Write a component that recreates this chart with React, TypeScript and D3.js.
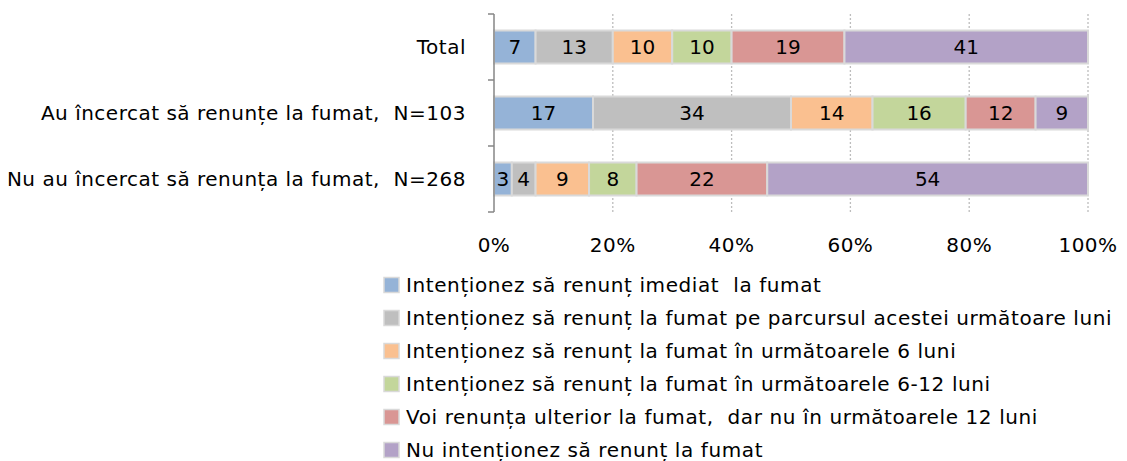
import React from 'react';
import * as d3 from 'd3';

const categories = [
  'Total',
  'Au încercat să renunțe la fumat,  N=103',
  'Nu au încercat să renunța la fumat,  N=268',
];

const seriesNames = [
  'Intenționez să renunț imediat  la fumat',
  'Intenționez să renunț la fumat pe parcursul acestei următoare luni',
  'Intenționez să renunț la fumat în următoarele 6 luni',
  'Intenționez să renunț la fumat în următoarele 6-12 luni',
  'Voi renunța ulterior la fumat,  dar nu în următoarele 12 luni',
  'Nu intenționez să renunț la fumat',
];

// values per series, one entry per category (Total, Au încercat, Nu au încercat)
const imediat = [7, 17, 3];
const lunaUrmatoare = [13, 34, 4];
const sase = [10, 14, 9];
const saseDoisprezece = [10, 16, 8];
const ulterior = [19, 12, 22];
const nu = [41, 9, 54];

const seriesValues = [imediat, lunaUrmatoare, sase, saseDoisprezece, ulterior, nu];

const xTicks = [0, 0.2, 0.4, 0.6, 0.8, 1];

const colors = ['#95B3D7', '#BFBFBF', '#FAC090', '#C3D69B', '#D99694', '#B3A2C7'];

const W = 1127;
const H = 461;
const FONT = '"DejaVu Sans", sans-serif';
const FS = 20;

const App: React.FC = () => {
  const left = 494;
  const right = 1088;
  const top = 14;
  const bottom = 212;

  const x = d3.scaleLinear().domain([0, 1]).range([left, right]);
  const y = d3.scaleBand<string>().domain(categories).range([top, bottom]).paddingInner(0.5).paddingOuter(0.25);
  const yOuter = d3.scaleBand<string>().domain(categories).range([top, bottom]);

  const rows = categories.map((c, i) => {
    const r: Record<string, any> = { cat: c };
    seriesNames.forEach((s, j) => (r[s] = seriesValues[j][i]));
    return r;
  });
  const stacked = d3.stack<any>().keys(seriesNames).offset(d3.stackOffsetExpand)(rows);

  return (
    <div style={{ position: 'fixed', left: 0, top: 0 }}>
      <svg width={W} height={H} style={{ display: 'block', background: '#fff' }} fontFamily={FONT}>
        {/* grid */}
        {xTicks.slice(1).map((t) => (
          <line key={t} x1={x(t)} x2={x(t)} y1={top} y2={bottom} stroke="#BDBDBD" strokeWidth={1.3} strokeDasharray="2,2" />
        ))}
        {/* bars */}
        {stacked.map((s, j) => (
          <g key={s.key}>
            {s.map((d, i) => {
              const x0 = x(d[0]);
              const x1 = x(d[1]);
              const cy = (y(categories[i]) as number) + y.bandwidth() / 2;
              return (
                <g key={i}>
                  <rect
                    x={x0}
                    y={y(categories[i])}
                    width={x1 - x0}
                    height={y.bandwidth()}
                    fill={colors[j]}
                    stroke="#D9D9D9"
                    strokeWidth={2}
                  />
                  <text x={(x0 + x1) / 2} y={cy} dy="0.36em" textAnchor="middle" fontSize={FS} fill="#000">
                    {seriesValues[j][i]}
                  </text>
                </g>
              );
            })}
          </g>
        ))}
        {/* y axis */}
        <line x1={left} x2={left} y1={top} y2={bottom} stroke="#868686" strokeWidth={1.5} />
        {[top, ...categories.map((c) => (yOuter(c) as number) + yOuter.bandwidth())].map((ty, i) => (
          <line key={i} x1={left - 6} x2={left} y1={ty} y2={ty} stroke="#868686" strokeWidth={1.5} />
        ))}
        {categories.map((c) => (
          <text
            key={c}
            x={466}
            y={(y(c) as number) + y.bandwidth() / 2}
            dy="0.36em"
            textAnchor="end"
            fontSize={FS}
            letterSpacing={0.5}
            fill="#000"
            xmlSpace="preserve"
            style={{ whiteSpace: 'pre' }}
          >
            {c}
          </text>
        ))}
        {/* x tick labels */}
        {xTicks.map((t) => (
          <text key={t} x={x(t)} y={245} dy="0.36em" textAnchor="middle" fontSize={FS} letterSpacing={0.5} fill="#000">
            {d3.format('.0%')(t)}
          </text>
        ))}
        {/* legend */}
        {seriesNames.map((s, j) => {
          const ly = 285 + j * 33;
          return (
            <g key={s}>
              <rect x={384} y={ly - 7.5} width={15} height={15} fill={colors[j]} stroke="#D9D9D9" strokeWidth={1.5} />
              <text
                x={406}
                y={ly}
                dy="0.36em"
                fontSize={FS}
                letterSpacing={0.6}
                fill="#000"
                xmlSpace="preserve"
                style={{ whiteSpace: 'pre' }}
              >
                {s}
              </text>
            </g>
          );
        })}
      </svg>
    </div>
  );
};

export default App;
